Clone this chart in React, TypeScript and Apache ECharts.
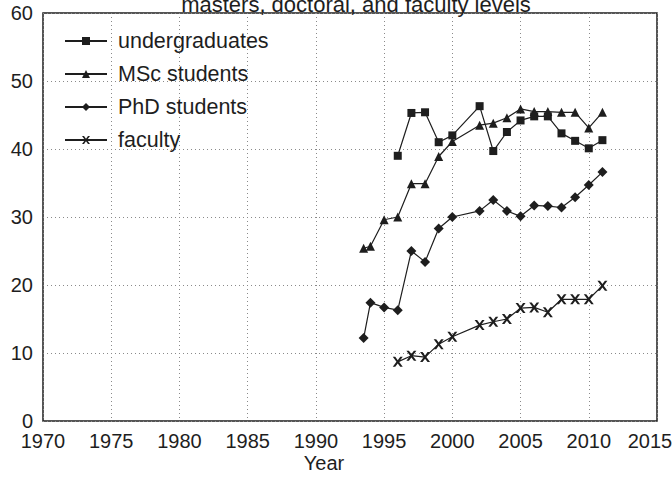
import React, { useEffect, useRef } from "react";
import * as echarts from "echarts";

const titleText = "masters, doctoral, and faculty levels";
const xAxisName = "Year";
const seriesNames = ["undergraduates", "MSc students", "PhD students", "faculty"];

const undergradYears = [1996, 1997, 1998, 1999, 2000, 2002, 2003, 2004, 2005, 2006, 2007, 2008, 2009, 2010, 2011];
const undergradValues = [39.0, 45.3, 45.4, 41.0, 42.0, 46.3, 39.7, 42.5, 44.2, 44.8, 44.8, 42.3, 41.2, 40.1, 41.3];

const mscYears = [1993.5, 1994, 1995, 1996, 1997, 1998, 1999, 2000, 2002, 2003, 2004, 2005, 2006, 2007, 2008, 2009, 2010, 2011];
const mscValues = [25.4, 25.7, 29.6, 30.0, 34.9, 34.9, 38.9, 41.1, 43.5, 43.8, 44.6, 45.9, 45.5, 45.5, 45.4, 45.4, 43.1, 45.4];

const phdYears = [1993.5, 1994, 1995, 1996, 1997, 1998, 1999, 2000, 2002, 2003, 2004, 2005, 2006, 2007, 2008, 2009, 2010, 2011];
const phdValues = [12.2, 17.4, 16.7, 16.3, 25.0, 23.4, 28.3, 30.0, 30.9, 32.5, 30.9, 30.1, 31.7, 31.6, 31.4, 32.9, 34.7, 36.6];

const facultyYears = [1996, 1997, 1998, 1999, 2000, 2002, 2003, 2004, 2005, 2006, 2007, 2008, 2009, 2010, 2011];
const facultyValues = [8.7, 9.6, 9.4, 11.3, 12.4, 14.1, 14.6, 15.0, 16.6, 16.7, 16.0, 17.9, 17.9, 17.9, 19.9];

const xMin = 1970;
const xMax = 2015;

const zip = (xs: number[], ys: number[]) => xs.map((x, i) => [x, ys[i]]);

const X_PATH =
  "path://M0,0 L2.5,0 L5,3.3 L7.5,0 L10,0 L6.3,5 L10,10 L7.5,10 L5,6.7 L2.5,10 L0,10 L3.7,5 Z";

const FONT = "Liberation Sans, Arial, sans-serif";
const INK = "#1e1e1e";

export default function App() {
  const ref = useRef<HTMLDivElement>(null);
  useEffect(() => {
    if (!ref.current) return;
    const chart = echarts.init(ref.current, undefined, { renderer: "svg" });
    const mk = (name: string, data: number[][], symbol: string, size: number | number[]) => ({
      name,
      type: "line",
      data,
      symbol,
      symbolSize: size,
      showSymbol: true,
      lineStyle: { color: INK, width: 1.2 },
      itemStyle: { color: INK },
      emphasis: { disabled: true },
    });
    chart.setOption({
      animation: false,
      backgroundColor: "#ffffff",
      textStyle: { fontFamily: FONT },
      grid: {
        left: 43,
        right: 15,
        top: 13,
        bottom: 64,
        show: true,
        borderColor: INK,
        borderWidth: 1.5,
        containLabel: false,
        outerBoundsMode: "none",
      },
      legend: {
        orient: "vertical",
        left: 64,
        top: 30,
        itemWidth: 42,
        itemHeight: 10,
        itemGap: 11,
        padding: 0,
        selectedMode: false,
        textStyle: { fontSize: 21.5, color: INK, fontFamily: FONT, padding: [0, 0, 0, 6] },
        data: seriesNames,
      },
      xAxis: {
        type: "value",
        min: xMin,
        max: xMax,
        interval: 5,
        axisLine: { show: false },
        axisTick: { show: false },
        axisLabel: {
          fontSize: 20,
          lineHeight: 16,
          color: INK,
          margin: 12,
          fontFamily: FONT,
          formatter: (v: number) => (v === xMax ? "{r|" + String(v) + "}" : String(v)),
          rich: {
            r: { fontSize: 20, lineHeight: 16, color: INK, fontFamily: FONT, padding: [0, 14, 0, 0] },
          },
        },
        splitLine: { show: true, lineStyle: { color: "#8a8a8a", width: 1, type: [1, 3] } },
      },
      yAxis: {
        type: "value",
        min: 0,
        max: 60,
        interval: 10,
        axisLine: { show: false },
        axisTick: { show: false },
        axisLabel: {
          fontSize: 20,
          lineHeight: 16,
          color: INK,
          margin: 10,
          fontFamily: FONT,
          padding: [0, 0, 3, 0],
        },
        splitLine: { show: true, lineStyle: { color: "#8a8a8a", width: 1, type: [1, 3] } },
      },
      graphic: [
        {
          type: "text",
          x: 356,
          y: 4,
          style: {
            text: titleText,
            fontSize: 22,
            fontFamily: FONT,
            fill: INK,
            textAlign: "center",
            textVerticalAlign: "middle",
          },
        },
        {
          type: "text",
          x: 324,
          y: 463,
          style: {
            text: xAxisName,
            fontSize: 20,
            fontFamily: FONT,
            fill: INK,
            textAlign: "center",
            textVerticalAlign: "middle",
          },
        },
      ],
      series: [
        mk(seriesNames[0], zip(undergradYears, undergradValues), "rect", 8),
        mk(seriesNames[1], zip(mscYears, mscValues), "triangle", 9),
        mk(seriesNames[2], zip(phdYears, phdValues), "diamond", 10),
        mk(seriesNames[3], zip(facultyYears, facultyValues), X_PATH, 10),
      ],
    });
    return () => chart.dispose();
  }, []);
  return (
    <div
      ref={ref}
      style={{ position: "fixed", left: 0, top: 0, width: 672, height: 485 }}
    />
  );
}
